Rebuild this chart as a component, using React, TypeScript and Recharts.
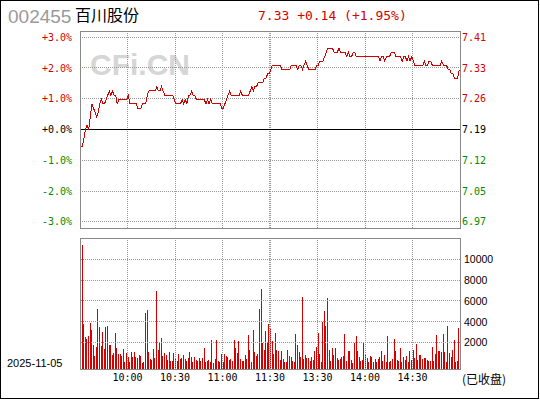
import React from 'react';
import { LineChart, Line, BarChart, Bar, XAxis, YAxis, ReferenceLine } from 'recharts';

const PREV_CLOSE = 7.19;

const PRICE_AM = [
  7.15, 7.15, 7.17, 7.19, 7.20, 7.19, 7.22, 7.25, 7.24, 7.23,
  7.22, 7.23, 7.25, 7.26, 7.25, 7.25, 7.26, 7.27, 7.28, 7.27,
  7.28, 7.27, 7.27, 7.25, 7.26, 7.26, 7.26, 7.26, 7.26, 7.26,
  7.27, 7.25, 7.25, 7.25, 7.25, 7.25, 7.24, 7.24, 7.24, 7.25,
  7.25, 7.25, 7.27, 7.28, 7.28, 7.28, 7.28, 7.28, 7.29, 7.28,
  7.28, 7.29, 7.28, 7.27, 7.27, 7.27, 7.27, 7.27, 7.27, 7.26,
  7.25, 7.25, 7.25, 7.25, 7.26, 7.25, 7.26, 7.25, 7.27, 7.27,
  7.28, 7.27, 7.27, 7.26, 7.26, 7.26, 7.26, 7.26, 7.26, 7.25,
  7.26, 7.25, 7.26, 7.25, 7.25, 7.25, 7.25, 7.25, 7.25, 7.24,
  7.24, 7.25, 7.26, 7.27, 7.28, 7.27, 7.27, 7.27, 7.27, 7.27,
  7.27, 7.28, 7.27, 7.27, 7.27, 7.27, 7.27, 7.28, 7.29, 7.28,
  7.29, 7.29, 7.30, 7.30, 7.30, 7.30, 7.31, 7.31, 7.32, 7.32,
];

const PRICE_PM = [
  7.33, 7.34, 7.34, 7.34, 7.34, 7.34, 7.34, 7.33, 7.33, 7.33,
  7.33, 7.33, 7.33, 7.34, 7.34, 7.34, 7.34, 7.33, 7.34, 7.34,
  7.33, 7.34, 7.35, 7.34, 7.33, 7.33, 7.33, 7.33, 7.33, 7.34,
  7.34, 7.35, 7.35, 7.35, 7.36, 7.37, 7.38, 7.38, 7.38, 7.38,
  7.37, 7.37, 7.37, 7.38, 7.37, 7.37, 7.37, 7.37, 7.36, 7.37,
  7.36, 7.36, 7.37, 7.37, 7.36, 7.36, 7.36, 7.36, 7.36, 7.36,
  7.36, 7.36, 7.36, 7.36, 7.36, 7.36, 7.36, 7.36, 7.36, 7.35,
  7.36, 7.36, 7.35, 7.36, 7.36, 7.36, 7.37, 7.37, 7.37, 7.36,
  7.36, 7.36, 7.36, 7.35, 7.36, 7.36, 7.35, 7.36, 7.35, 7.36,
  7.35, 7.34, 7.34, 7.34, 7.34, 7.34, 7.34, 7.35, 7.34, 7.34,
  7.35, 7.35, 7.34, 7.34, 7.34, 7.34, 7.34, 7.34, 7.35, 7.34,
  7.34, 7.34, 7.33, 7.33, 7.32, 7.32, 7.31, 7.31, 7.31, 7.33,
];

const VOL_AM = [
  1620, 11370, 3750, 2510, 2320, 2600, 3870, 3180, 1750, 700,
  1560, 5270, 3460, 1650, 2980, 1370, 3460, 3650, 1750, 1750,
  790, 980, 2890, 1460, 890, 890, 700, 1370, 130, 980,
  600, 130, 1080, 600, 1080, 600, 510, 790, 700, 30,
  130, 4890, 5180, 1080, 410, 320, 1370, 510, 6990, 1270,
  2030, 2410, 700, 980, 790, 320, 1080, 220, 220, 980,
  410, 220, 890, 410, 510, 790, 410, 220, 510, 1080,
  600, 130, 600, 320, 220, 510, 220, 510, 1460, 130,
  220, 320, 130, 2220, 30, 410, 2220, 220, 130, 890,
  130, 890, 700, 600, 320, 410, 220, 2220, 1460, 980,
  2130, 410, 220, 220, 790, 410, 2700, 1270, 130, 3180,
  1080, 700, 890, 5270, 7180, 1940, 1270, 3080, 1940, 3840,
];

const VOL_PM = [
  3270, 2130, 890, 2890, 1270, 1170, 320, 1170, 410, 120,
  150, 1270, 700, 600, 220, 180, 2790, 1750, 1080, 600,
  6410, 410, 790, 510, 510, 220, 600, 320, 1170, 1560,
  2890, 890, 130, 4030, 5080, 3650, 6320, 1270, 200, 1460,
  790, 1460, 510, 320, 410, 600, 700, 2790, 220, 1170,
  1170, 320, 30, 1940, 2600, 1170, 600, 220, 320, 2030,
  790, 510, 150, 700, 600, 180, 410, 130, 410, 600,
  1170, 220, 790, 130, 2600, 130, 220, 410, 2320, 1170,
  320, 220, 1460, 160, 600, 320, 700, 130, 1170, 320,
  1270, 510, 1840, 300, 790, 790, 410, 510, 510, 320,
  220, 220, 1560, 200, 890, 2700, 1170, 1170, 1080, 2790,
  1080, 180, 3650, 980, 600, 1270, 2220, 150, 200, 3370,
];

const PCT_TICKS = [-3, -2, -1, 0, 1, 2, 3];
const PCT_GRID = [-3, -2, -1, 1, 2, 3];
const PCT_DOMAIN = [-3.2, 3.2];
const TIME_TICKS = [30, 60, 90, 120, 150, 180, 210];
const TIME_LABELS = ['10:00', '10:30', '11:00', '11:30', '13:30', '14:00', '14:30'];
const TIME_GRID = [30, 60, 90, 119.4, 120.6, 150, 180, 210];
const VOL_TICKS = [2000, 4000, 6000, 8000, 10000];
const VOL_DOMAIN = [-520, 12040];

const RED = '#d40000';
const GREEN = '#008c00';
const GRID = '#999999';
const FRAME = '#888888';

const priceData = PRICE_AM.concat(PRICE_PM).map((p, i) => ({
  t: i + 0.5,
  pct: (p / PREV_CLOSE - 1) * 100,
}));

const volData = VOL_AM.concat(VOL_PM).map((v, i) => ({
  t: i + 0.5,
  vol: [VOL_DOMAIN[0], v],
}));

const pctColor = (v: number) => (v > 0 ? RED : v < 0 ? GREEN : '#000');

const LeftTick = (props: any) => {
  const { x, y, payload } = props;
  const v = payload.value as number;
  const label = (v >= 0 ? '+' : '-') + Math.abs(v).toFixed(1) + '%';
  return (
    <text x={x} y={y} dy="0.36em" textAnchor="end" fill={pctColor(v)} fontSize={10} fontFamily="'DejaVu Sans Mono', monospace">
      {label}
    </text>
  );
};

const RightTick = (props: any) => {
  const { x, y, payload } = props;
  const v = payload.value as number;
  const label = (PREV_CLOSE * (1 + v / 100)).toFixed(2);
  return (
    <text x={x} y={y} dy="0.36em" textAnchor="start" fill={pctColor(v)} fontSize={10} fontFamily="'DejaVu Sans Mono', monospace">
      {label}
    </text>
  );
};

const VolTick = (props: any) => {
  const { x, y, payload } = props;
  return (
    <text x={x} y={y} dy="0.36em" textAnchor="start" fill="#000" fontSize={10.5} fontFamily="'Liberation Sans', Arial, sans-serif">
      {String(payload.value)}
    </text>
  );
};

const TimeTick = (props: any) => {
  const { x, y, payload } = props;
  const idx = TIME_TICKS.indexOf(payload.value);
  return (
    <text x={x} y={y + 12} textAnchor="middle" fill="#000" fontSize={10} fontFamily="'DejaVu Sans Mono', monospace">
      {idx >= 0 ? TIME_LABELS[idx] : ''}
    </text>
  );
};

export default function App() {
  return (
    <div style={{ position: 'absolute', left: 0, top: 0, width: 540, height: 400, background: '#fff', overflow: 'hidden' }}>
      <svg width={540} height={400} style={{ position: 'absolute', left: 0, top: 0 }}>
        <text x={90} y={75} fontSize={30} fontWeight="bold" fontFamily="'Liberation Sans', Arial, sans-serif" fill="#d6d6d6">
          CFi.CN
        </text>
        <text x={8} y={23} fontSize={19} fontFamily="'Liberation Sans', Arial, sans-serif" fill="#9a9a9a">
          002455
        </text>
        <text x={75} y={21} fontSize={16} fontFamily="'Noto Sans CJK SC', sans-serif" fill="#000">
          百川股份
        </text>
        <text x={258} y={20} fontSize={13} fontFamily="'DejaVu Sans Mono', monospace" fill={RED}>
          7.33 +0.14 (+1.95%)
        </text>
        <text x={7} y={367} fontSize={11} fontFamily="'Liberation Sans', Arial, sans-serif" fill="#000">
          2025-11-05
        </text>
        <text x={462} y={384} fontSize={12} fontFamily="'Noto Sans CJK SC', sans-serif" fill="#000">
          (已收盘)
        </text>
      </svg>

      <div style={{ position: 'absolute', left: 0, top: 0 }}>
        <LineChart
          width={540}
          height={235}
          data={priceData}
          margin={{ top: 31, right: 0, bottom: 7, left: 0 }}
          style={{ shapeRendering: 'crispEdges' }}
        >
          <XAxis dataKey="t" type="number" domain={[0, 240]} hide allowDataOverflow />
          <YAxis
            yAxisId="L"
            type="number"
            width={80}
            domain={PCT_DOMAIN}
            ticks={PCT_TICKS}
            interval={0}
            allowDataOverflow
            axisLine={false}
            tickLine={false}
            tickSize={0}
            tickMargin={8}
            tick={LeftTick}
          />
          <YAxis
            yAxisId="R"
            orientation="right"
            type="number"
            width={80}
            domain={PCT_DOMAIN}
            ticks={PCT_TICKS}
            interval={0}
            allowDataOverflow
            axisLine={false}
            tickLine={false}
            tickSize={0}
            tickMargin={2}
            tick={RightTick}
          />
          {PCT_GRID.map((v) => (
            <ReferenceLine key={'h' + v} yAxisId="L" y={v} stroke={GRID} strokeDasharray="1 1" />
          ))}
          {TIME_GRID.map((v) => (
            <ReferenceLine key={'v' + v} yAxisId="L" x={v} stroke={GRID} strokeDasharray="1 1" />
          ))}
          <ReferenceLine yAxisId="L" y={0} stroke="#000" strokeWidth={1} />
          <Line
            yAxisId="L"
            dataKey="pct"
            type="linear"
            stroke={RED}
            strokeWidth={1}
            dot={false}
            activeDot={false}
            isAnimationActive={false}
          />
        </LineChart>
      </div>

      <div style={{ position: 'absolute', left: 0, top: 235 }}>
        <BarChart
          width={540}
          height={165}
          data={volData}
          margin={{ top: 3, right: 0, bottom: 0, left: 80 }}
          style={{ shapeRendering: 'crispEdges' }}
        >
          <XAxis
            dataKey="t"
            type="number"
            domain={[0, 240]}
            ticks={TIME_TICKS}
            interval={0}
            height={31}
            allowDataOverflow
            axisLine={false}
            tickLine={false}
            tickSize={0}
            tickMargin={0}
            tick={TimeTick}
          />
          <YAxis
            yAxisId="v"
            orientation="right"
            type="number"
            width={80}
            domain={VOL_DOMAIN}
            ticks={VOL_TICKS}
            interval={0}
            allowDataOverflow
            axisLine={false}
            tickLine={false}
            tickSize={0}
            tickMargin={4}
            tick={VolTick}
          />
          {VOL_TICKS.map((v) => (
            <ReferenceLine key={'vh' + v} yAxisId="v" y={v} stroke={GRID} strokeDasharray="1 1" />
          ))}
          {TIME_GRID.map((v) => (
            <ReferenceLine key={'vv' + v} yAxisId="v" x={v} stroke={GRID} strokeDasharray="1 1" />
          ))}
          <Bar yAxisId="v" dataKey="vol" fill={RED} barSize={1} isAnimationActive={false} />
        </BarChart>
      </div>

      <svg width={540} height={400} style={{ position: 'absolute', left: 0, top: 0, pointerEvents: 'none' }} shapeRendering="crispEdges">
        <rect x={80.5} y={31.5} width={380} height={197} fill="none" stroke={FRAME} />
        <rect x={80.5} y={238.5} width={380} height={131} fill="none" stroke={FRAME} />
        <rect x={0.5} y={0.5} width={538} height={398} fill="none" stroke="#000" />
      </svg>
    </div>
  );
}
